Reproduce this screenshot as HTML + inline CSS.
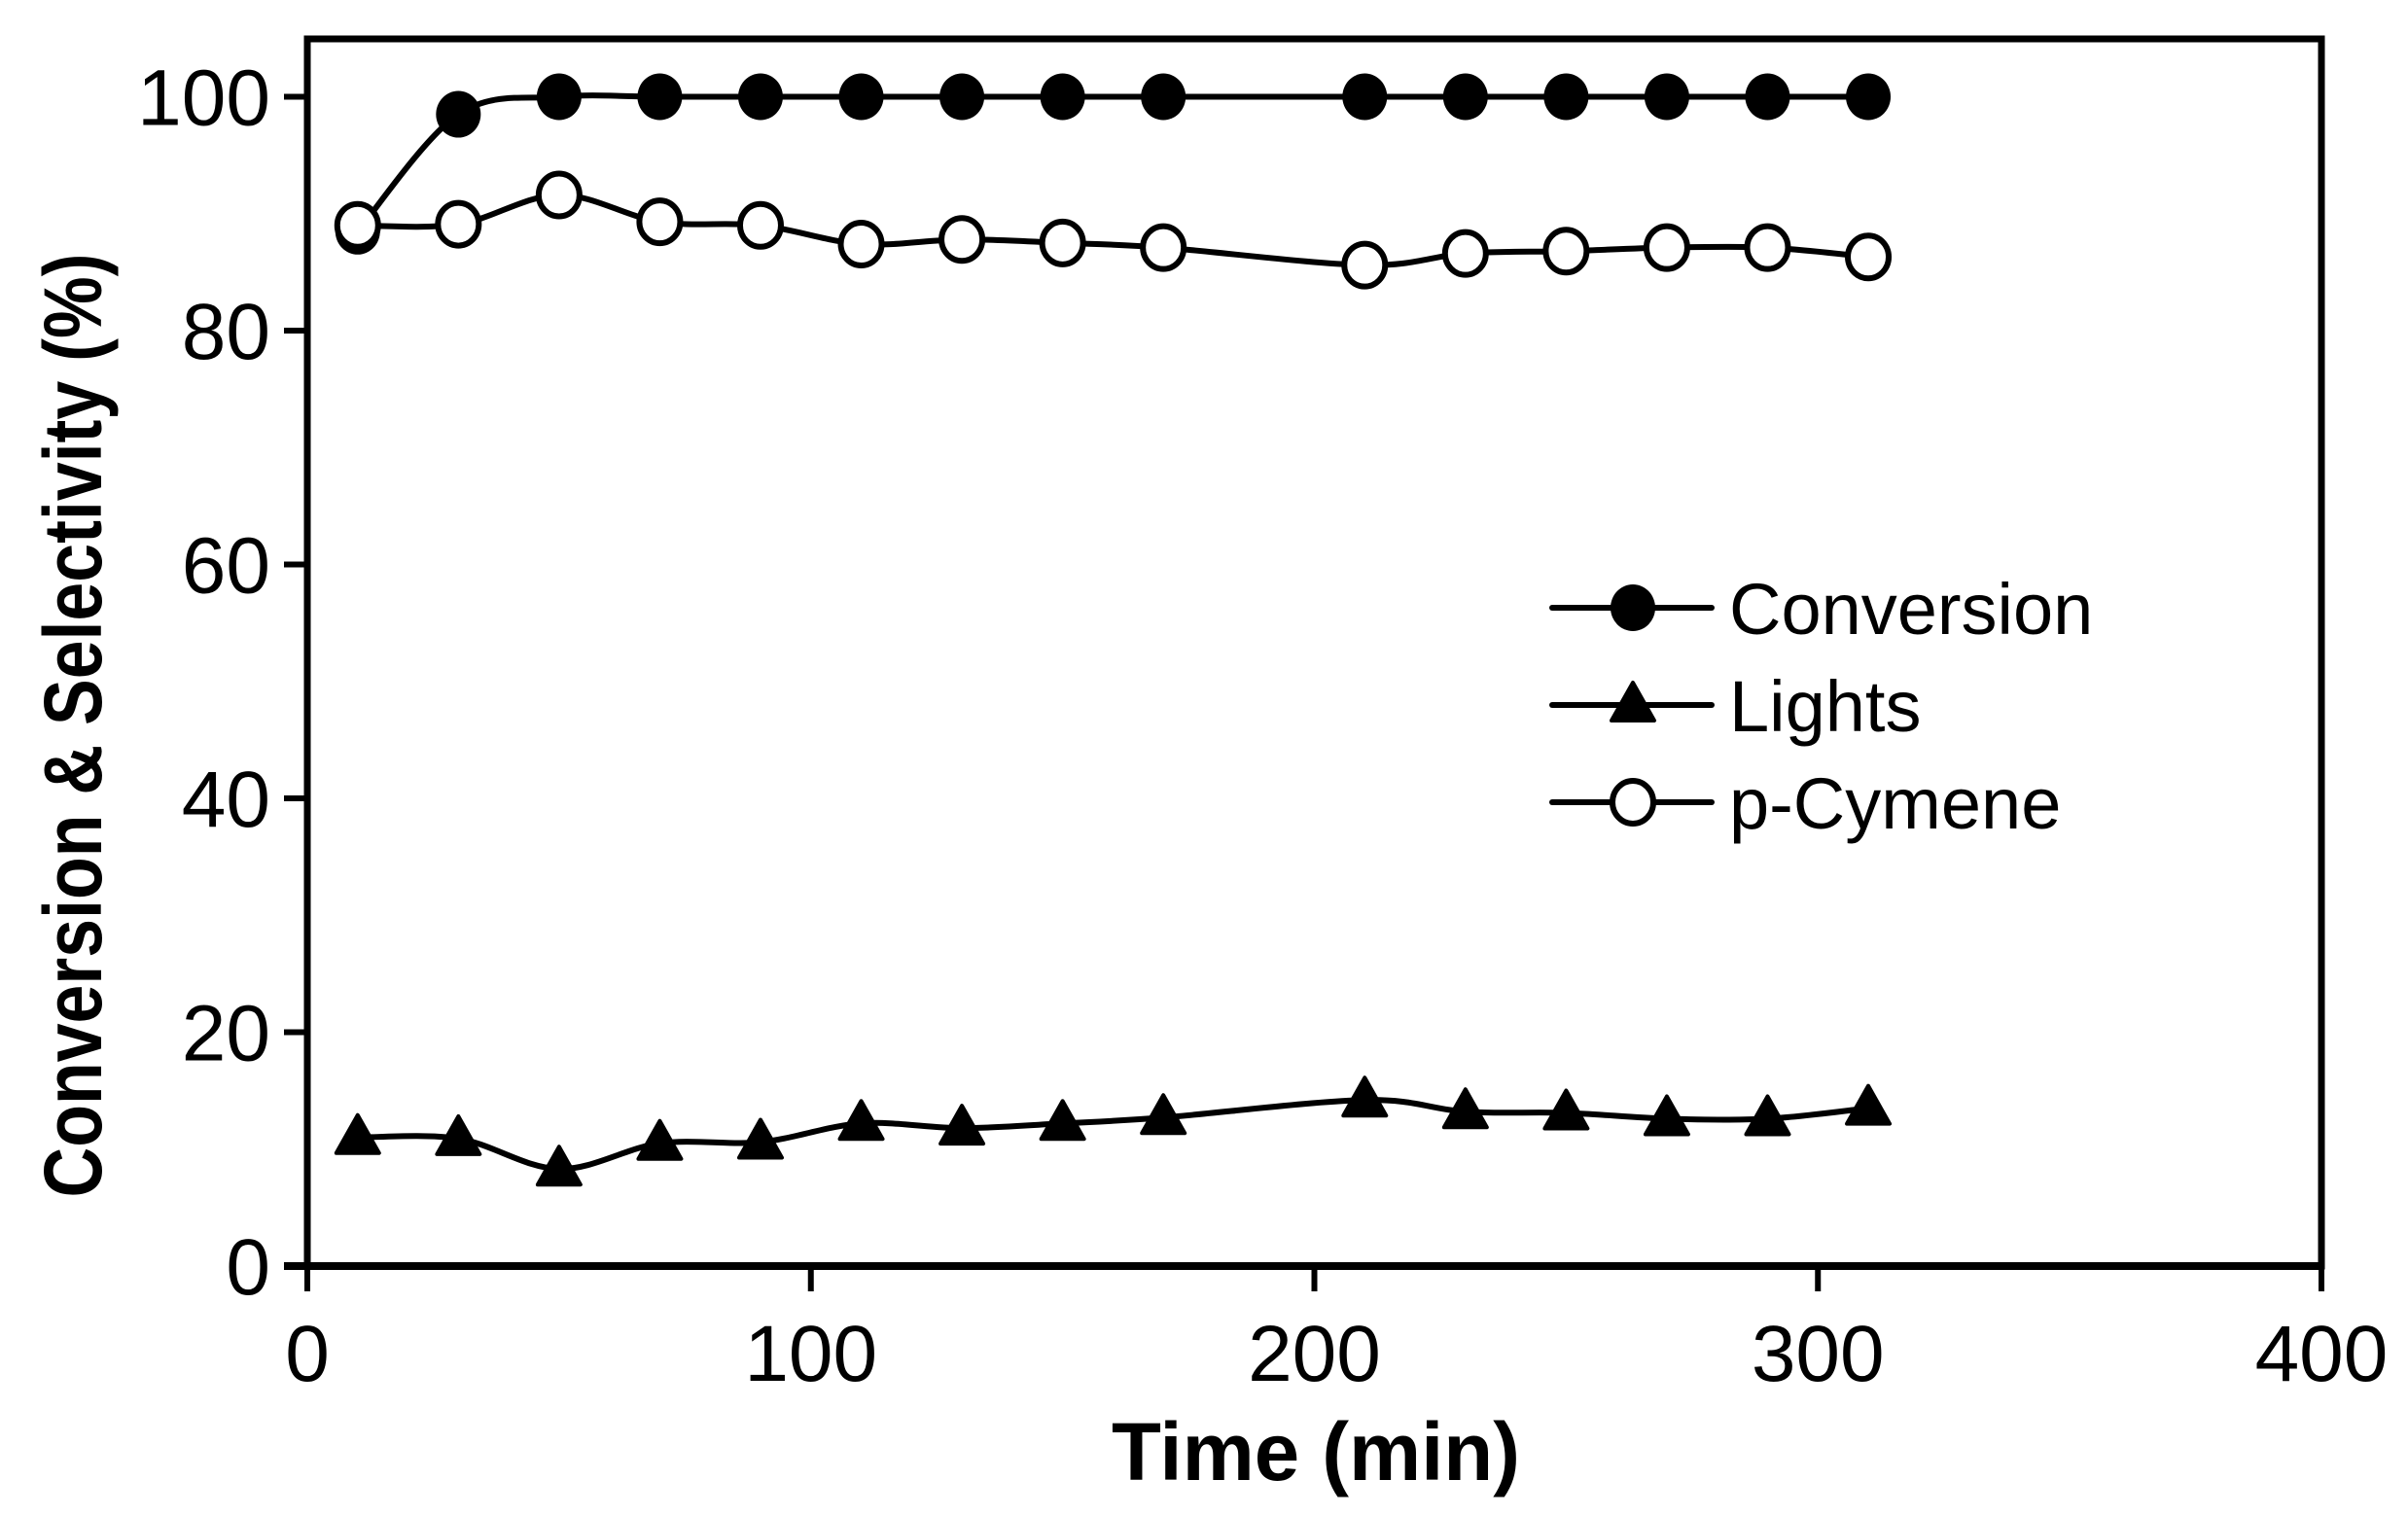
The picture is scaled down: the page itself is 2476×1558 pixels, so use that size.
<!DOCTYPE html>
<html><head><meta charset="utf-8"><style>
html,body{margin:0;padding:0;background:#fff;}
svg{display:block;}
text{font-family:"Liberation Sans",Arial,sans-serif;fill:#000;}
</style></head><body>
<svg id="s" width="2476" height="1558" viewBox="0 0 2476 1558" xmlns="http://www.w3.org/2000/svg">
<rect width="2476" height="1558" fill="#fff"/>
<g id="g"></g>
</svg>
<script>
const NS="http://www.w3.org/2000/svg",g=document.getElementById('g');
function el(t,a,txt){const e=document.createElementNS(NS,t);for(const k in a)e.setAttribute(k,a[k]);if(txt!==undefined)e.textContent=txt;g.appendChild(e);return e;}
const X0=316,X1=2387,Y0=1302,YT=40;
const sx=x=>X0+x*(X1-X0)/400, sy=y=>Y0-y*(Y0-99.5)/100;
el('rect',{x:X0,y:YT,width:X1-X0,height:Y0-YT,fill:'none',stroke:'#000','stroke-width':7});
el('line',{x1:X0-24,y1:Y0,x2:X1,y2:Y0,stroke:'#000','stroke-width':8});
for(let v=0;v<=100;v+=20){const y=sy(v);el('line',{x1:X0-24,y1:y,x2:X0,y2:y,stroke:'#000','stroke-width':6});
 el('text',{x:X0-38,y:y+29,'font-size':82,'text-anchor':'end'},String(v));}
for(let v=0;v<=400;v+=100){const x=sx(v);el('line',{x1:x,y1:Y0,x2:x,y2:Y0+26,stroke:'#000','stroke-width':6});
 el('text',{x:x,y:1420,'font-size':82,'text-anchor':'middle'},String(v));}
el('text',{x:1353,y:1522,'font-size':84,'font-weight':'bold','text-anchor':'middle',textLength:420,lengthAdjust:'spacingAndGlyphs'},'Time (min)');
el('text',{x:0,y:0,'font-size':84,'font-weight':'bold','text-anchor':'middle',textLength:971,lengthAdjust:'spacingAndGlyphs',transform:'translate(104,746) rotate(-90)'},'Conversion & Selectivity (%)');
const xs=[10,30,50,70,90,110,130,150,170,210,230,250,270,290,310];
const conv=[88.5,98.5,100,100,100,100,100,100,100,100,100,100,100,100,100];
const pcy=[89,89.1,91.6,89.3,89,87.4,87.8,87.5,87.1,85.6,86.6,86.8,87.1,87.1,86.3];
const lig=[11,10.9,8.3,10.5,10.6,12.2,11.8,12.2,12.7,14.2,13.2,13.1,12.6,12.6,13.5];
function path(ys){const p=xs.map((x,i)=>[sx(x),sy(ys[i])]);let d='M'+p[0];
 for(let i=0;i<p.length-1;i++){const a=p[i-1]||p[i],b=p[i],c=p[i+1],e=p[i+2]||c,t=0.5/3;
  d+=' C'+(b[0]+(c[0]-a[0])*t)+','+(b[1]+(c[1]-a[1])*t)+' '+(c[0]-(e[0]-b[0])*t)+','+(c[1]-(e[1]-b[1])*t)+' '+c[0]+','+c[1];}
 el('path',{d:d,fill:'none',stroke:'#000','stroke-width':6});}
function tri(x,y){el('path',{d:`M${x},${y-23} L${x+22},${y+16} L${x-22},${y+16}Z`,fill:'#000',stroke:'#000','stroke-width':4,'stroke-linejoin':'round'});}
path(conv);path(pcy);path(lig);
xs.forEach((x,i)=>{el('ellipse',{cx:sx(x),cy:sy(conv[i]),rx:23,ry:24,fill:'#000'});});
xs.forEach((x,i)=>{el('ellipse',{cx:sx(x),cy:sy(pcy[i]),rx:21,ry:22,fill:'#fff',stroke:'#000','stroke-width':6});});
xs.forEach((x,i)=>tri(sx(x),sy(lig[i])));
const L=[[625,'Conversion'],[725,'Lights'],[825,'p-Cymene']];
L.forEach(([y,t],i)=>{el('line',{x1:1596,y1:y,x2:1760,y2:y,stroke:'#000','stroke-width':6,'stroke-linecap':'round'});
 if(i==0)el('ellipse',{cx:1679,cy:y,rx:23,ry:24,fill:'#000'});
 else if(i==1)tri(1679,y);
 else el('ellipse',{cx:1679,cy:y,rx:21,ry:22,fill:'#fff',stroke:'#000','stroke-width':6});
 el('text',{x:1778,y:y+27,'font-size':74},t);});
</script>
</body></html>
